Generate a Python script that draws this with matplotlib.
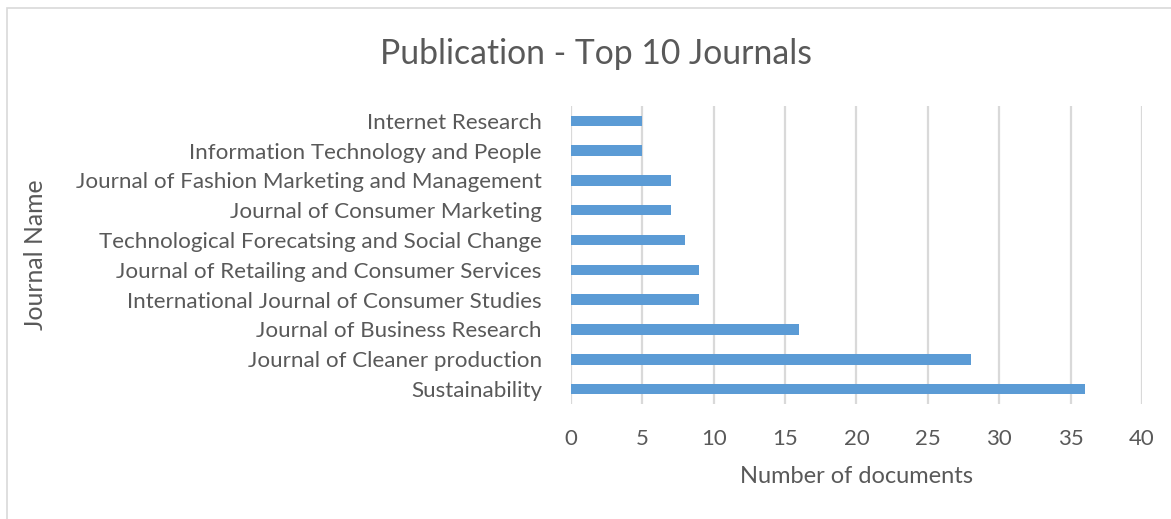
import matplotlib
matplotlib.use("Agg")
import matplotlib.pyplot as plt
from matplotlib.patches import Rectangle

journals = [
    'Sustainability',
    'Journal of Cleaner production',
    'Journal of Business Research',
    'International Journal of Consumer Studies',
    'Journal of Retailing and Consumer Services',
    'Technological Forecatsing and Social Change',
    'Journal of Consumer Marketing',
    'Journal of Fashion Marketing and Management',
    'Information Technology and People',
    'Internet Research',
]
documents = [36, 28, 16, 9, 9, 8, 7, 7, 5, 5]
xticks = [0, 5, 10, 15, 20, 25, 30, 35, 40]

text_col = '#595959'
plt.rcParams['font.family'] = ['Lato', 'DejaVu Sans']

fig = plt.figure(figsize=(11.71, 5.19), dpi=100)
ax = fig.add_axes([0.4876, 0.2216, 0.4876, 0.5742])

ax.barh(range(len(journals)), documents, height=0.35, color='#5b9bd5', zorder=3)
ax.set_ylim(-0.5, len(journals) - 0.5)
ax.set_xlim(0, 40)
ax.set_xticks(xticks)
ax.set_yticks(range(len(journals)))
ax.set_yticklabels(journals)
ax.tick_params(axis='y', length=0, pad=21, labelsize=16.1, labelcolor=text_col)
ax.tick_params(axis='x', length=0, pad=18, labelsize=16, labelcolor=text_col)
ax.grid(axis='x', color='#d9d9d9', linewidth=1.6, zorder=0)
for s in ax.spines.values():
    s.set_visible(False)

ax.set_xlabel('Number of documents', fontsize=17, color=text_col, labelpad=12)
ax.set_ylabel('Journal Name', fontsize=17.8, color=text_col)
ax.yaxis.set_label_coords(-0.917, 0.5, transform=ax.transAxes)
fig.text(0.509, 0.895, 'Publication - Top 10 Journals', fontsize=24.3, color=text_col,
         ha='center', va='center')

# chart border
fig.patches.append(Rectangle((0.006, -0.01), 1.1, 0.995, transform=fig.transFigure,
                             fill=False, edgecolor='#d9d9d9', linewidth=1.2))

fig.savefig('out.png', dpi=100)
